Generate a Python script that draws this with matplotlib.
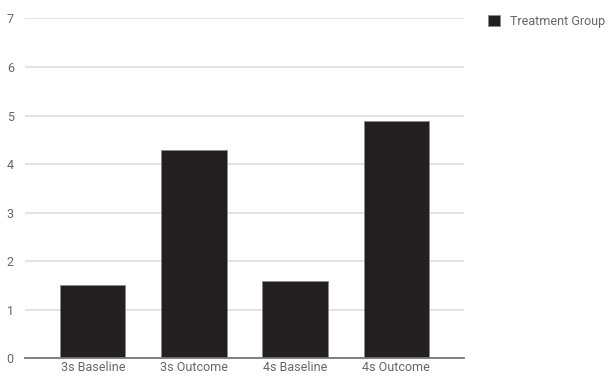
import matplotlib
matplotlib.use("Agg")
import matplotlib.pyplot as plt
from matplotlib.patches import Patch

categories = ["3s Baseline", "3s Outcome", "4s Baseline", "4s Outcome"]
values = [1.50, 4.28, 1.59, 4.88]
series_name = "Treatment Group"
yticks = [0, 1, 2, 3, 4, 5, 6, 7]

plt.rcParams['font.family'] = ['Roboto', 'DejaVu Sans']

fig = plt.figure(figsize=(6.09, 3.77), dpi=100)
ax = fig.add_axes([0.041, 0.050, 0.721, 0.901])

bar_color = "#231f20"
x = range(len(categories))
ax.bar(x, values, width=0.645, color=bar_color, edgecolor="#8a8a8a", linewidth=0.6, zorder=3)

ax.set_xlim(-0.67, 3.67)
ax.set_ylim(0, 7)
ax.set_yticks(yticks)
ax.set_yticklabels([str(t) for t in yticks])
ax.set_xticks(list(x))
ax.set_xticklabels(categories)

ax.grid(axis='y', color="#dedede", linewidth=1.2, zorder=0)
ax.grid(axis='x', visible=False)
for s in ["top", "right", "left"]:
    ax.spines[s].set_visible(False)
ax.spines["bottom"].set_color("#777777")
ax.spines["bottom"].set_linewidth(1.3)
ax.spines["bottom"].set_zorder(4)
ax.tick_params(axis='both', length=0, labelsize=9, labelcolor="#666666")
ax.tick_params(axis='y', pad=8)
ax.tick_params(axis='x', pad=2)

handle = Patch(facecolor=bar_color, edgecolor="#8a8a8a", linewidth=0.6)
fig.legend([handle], [series_name], loc="upper left", bbox_to_anchor=(0.783, 0.99),
           frameon=False, fontsize=9, labelcolor="#666666",
           handlelength=0.95, handleheight=0.95, handletextpad=0.8)

fig.savefig("out.png", dpi=100)
